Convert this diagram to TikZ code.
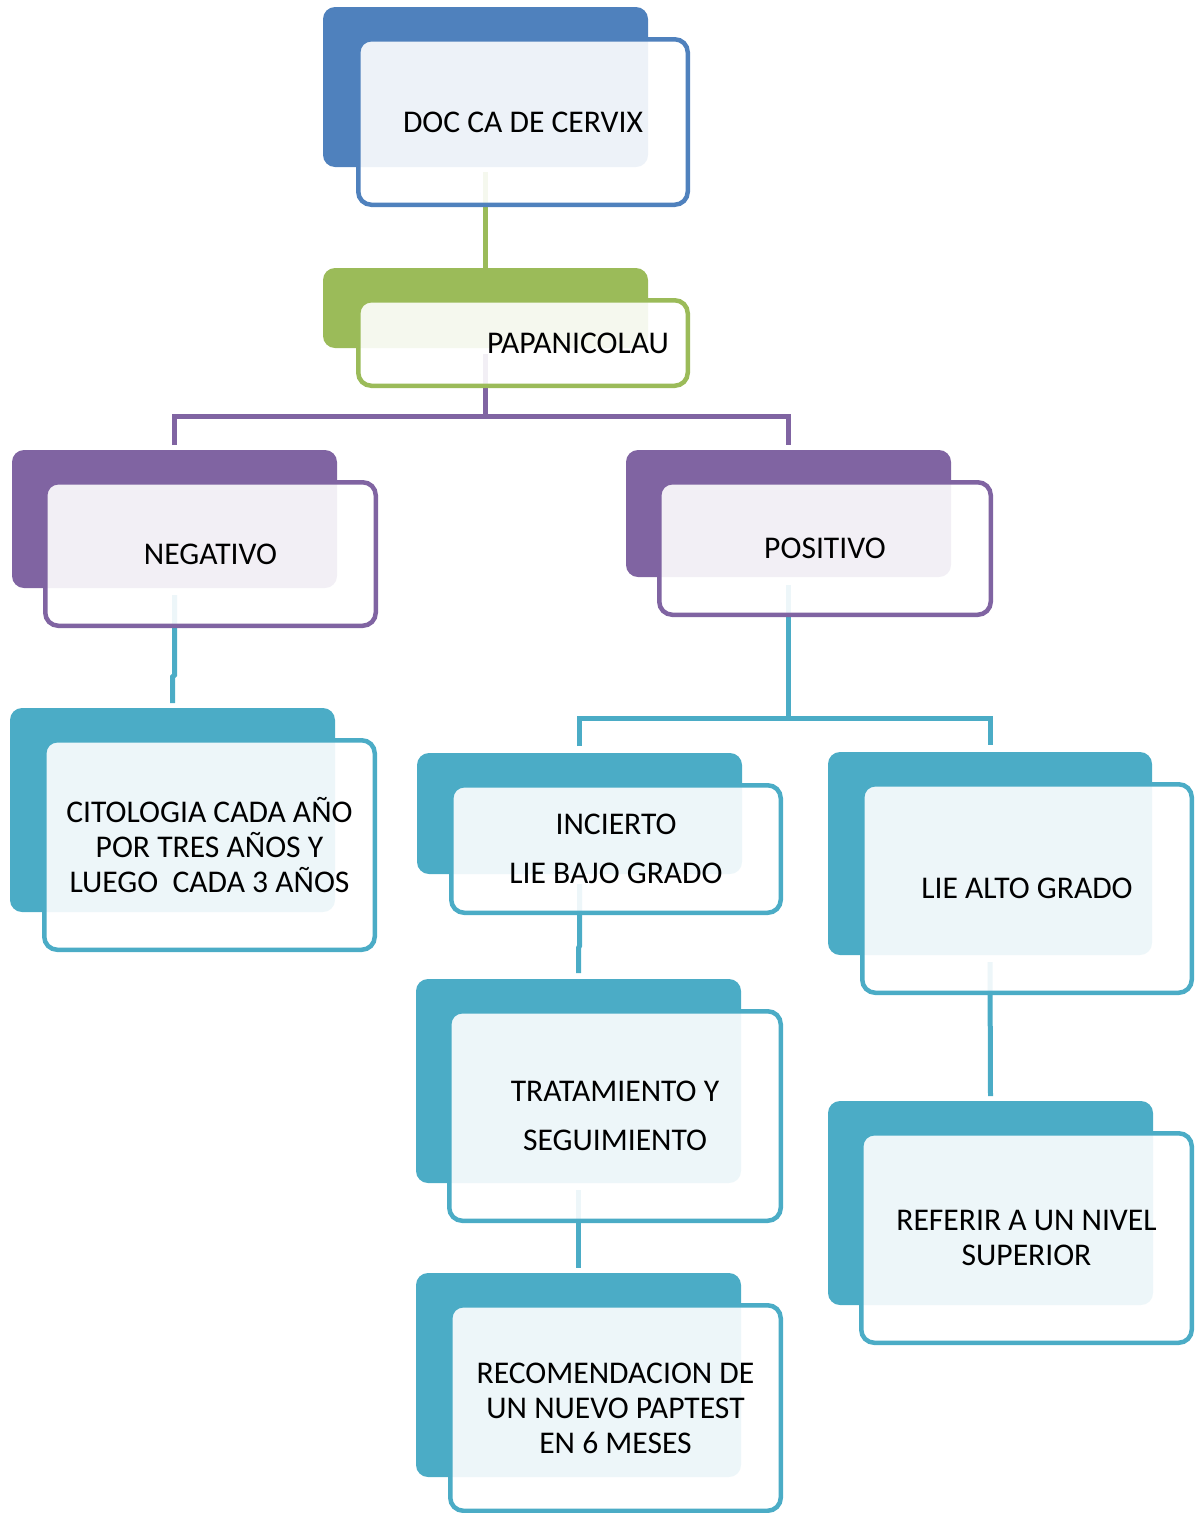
\documentclass[tikz,border=0pt]{standalone}
\usepackage{fontspec}
\setmainfont{Carlito}
\definecolor{cblue}{HTML}{4F81BD}
\definecolor{cgreen}{HTML}{9BBB59}
\definecolor{cpurple}{HTML}{8064A2}
\definecolor{cteal}{HTML}{4BACC6}
\tikzset{
  backbox/.style={fill=#1, rounded corners=12pt, inner sep=0pt, outer sep=0pt},
  frontbox/.style={draw=#1, line width=4.5pt, fill=white, fill opacity=0.9, text opacity=1,
    rounded corners=13pt, inner sep=0pt, align=center, text=black,
    font=\fontsize{31.6}{35}\selectfont},
  conn/.style={draw=#1, line width=5pt},
}
\begin{document}
\begin{tikzpicture}[x=1pt,y=-1pt]
\useasboundingbox (0,0) rectangle (1200,1513);
% back boxes
\node[backbox=cblue,   minimum width=325pt, minimum height=160pt] (docB)  at (485.5,87) {};
\node[backbox=cgreen,  minimum width=325pt, minimum height=80pt]  (papaB) at (485.5,308) {};
\node[backbox=cpurple, minimum width=325pt, minimum height=138pt] (negB)  at (174.5,519) {};
\node[backbox=cpurple, minimum width=325pt, minimum height=127pt] (posB)  at (788.5,513.5) {};
\node[backbox=cteal,   minimum width=325pt, minimum height=204pt] (citoB) at (172.5,810) {};
\node[backbox=cteal,   minimum width=325pt, minimum height=121pt] (incB)  at (579.5,813.5) {};
\node[backbox=cteal,   minimum width=324pt, minimum height=203pt] (altB)  at (990,853.5) {};
\node[backbox=cteal,   minimum width=325pt, minimum height=204pt] (tratB) at (578.5,1081) {};
\node[backbox=cteal,   minimum width=325pt, minimum height=204pt] (recB)  at (578.5,1375) {};
\node[backbox=cteal,   minimum width=325pt, minimum height=204pt] (refB)  at (990.5,1203) {};
% connectors
\coordinate (pbus) at (485.5,416);
\coordinate (tbus) at (788.5,718);
\draw[conn=cgreen] ([yshift=-5pt]docB.south) -- (papaB.north);
\draw[conn=cpurple] ([yshift=-6pt]papaB.south) -- (pbus);
\draw[conn=cpurple] ([yshift=5pt]negB.north) |- (pbus) -| ([yshift=5pt]posB.north);
\draw[conn=cteal] ([yshift=-7pt]negB.south) -- ++(0,80) -- ++(-2,2) -- ([yshift=5pt]citoB.north);
\draw[conn=cteal] ([yshift=-8pt]posB.south) -- (tbus);
\draw[conn=cteal] ([yshift=7pt]incB.north) |- (tbus) -| ([yshift=7pt]altB.north);
\draw[conn=cteal] ([yshift=-10pt]incB.south) -- ++(0,62) -- ++(-1,2) -- ([yshift=6pt]tratB.north);
\draw[conn=cteal] ([yshift=-7pt]tratB.south) -- ([yshift=5pt]recB.north);
\draw[conn=cteal] ([yshift=-7pt]altB.south) -- ([yshift=5pt]refB.north);
% front boxes
\node[frontbox=cblue,   minimum width=329.5pt, minimum height=165.5pt] (docF)  at (523,122) {DOC CA DE CERVIX};
\node[frontbox=cgreen,  minimum width=329.5pt, minimum height=85.5pt]  (papaF) at (523,343) {\hspace*{110pt}PAPANICOLAU};
\node[frontbox=cpurple, minimum width=330.5pt, minimum height=143.5pt] (negF)  at (210.5,554) {NEGATIVO};
\node[frontbox=cpurple, minimum width=331.5pt, minimum height=132.5pt] (posF)  at (825,548.5) {POSITIVO};
\node[frontbox=cteal,   minimum width=330.5pt, minimum height=209.5pt] (citoF) at (209.5,845) {CITOLOGIA CADA AÑO\\POR TRES AÑOS Y\\LUEGO\ \ CADA 3 AÑOS};
\node[frontbox=cteal,   minimum width=329.5pt, minimum height=127.5pt] (incF)  at (616,849) {INCIERTO\\[14pt]LIE BAJO GRADO};
\node[frontbox=cteal,   minimum width=329.5pt, minimum height=208.5pt] (altF)  at (1027,888.5) {LIE ALTO GRADO};
\node[frontbox=cteal,   minimum width=331.5pt, minimum height=209.5pt] (tratF) at (615,1116) {TRATAMIENTO Y\\[14pt]SEGUIMIENTO};
\node[frontbox=cteal,   minimum width=330.5pt, minimum height=205.5pt] (recF)  at (615.5,1408) {RECOMENDACION DE\\UN NUEVO PAPTEST\\EN 6 MESES};
\node[frontbox=cteal,   minimum width=330.5pt, minimum height=209.5pt] (refF)  at (1026.5,1238) {REFERIR A UN NIVEL\\SUPERIOR};
\end{tikzpicture}
\end{document}
